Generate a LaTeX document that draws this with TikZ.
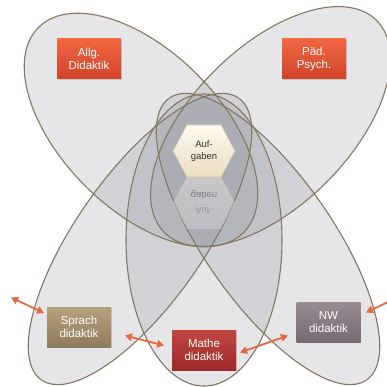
\documentclass[tikz,border=0pt]{standalone}
\usepackage{fontspec}
\setmainfont{Liberation Sans}
\usetikzlibrary{arrows.meta,shadows}
\definecolor{edgec}{RGB}{132,119,98}
\definecolor{petalc}{RGB}{138,140,150}
\definecolor{orangeT}{RGB}{241,104,66}
\definecolor{orangeB}{RGB}{208,66,42}
\definecolor{tanT}{RGB}{182,162,126}
\definecolor{tanB}{RGB}{143,123,93}
\definecolor{redT}{RGB}{194,70,64}
\definecolor{redB}{RGB}{156,42,40}
\definecolor{mauveT}{RGB}{154,139,147}
\definecolor{mauveB}{RGB}{118,105,113}
\definecolor{creamT}{RGB}{253,250,240}
\definecolor{creamB}{RGB}{233,220,193}
\definecolor{hexedge}{RGB}{214,198,166}
\definecolor{arrowc}{RGB}{232,104,62}
\begin{document}
\begin{tikzpicture}[x=1pt,y=-1pt,
  petalfill/.style={fill=petalc, fill opacity=0.21},
  petaledge/.style={draw=edgec, line width=1.1pt},
  box/.style={minimum width=64pt, minimum height=40pt, inner sep=0pt, align=center,
    text=white, font=\fontsize{11.5}{13.5}\selectfont,
    drop shadow={opacity=0.3, shadow xshift=0.6pt, shadow yshift=-1pt}},
  tip/.tip={Triangle[length=7pt,width=7.5pt]},
  link/.style={draw=arrowc, line width=1.8pt, tip-tip},
  hexfont/.style={font=\fontsize{9.5}{11.5}\selectfont, text=black!80}
]
\useasboundingbox (0,0) rectangle (386,387);
\fill[white] (0,0) rectangle (386,387);
% petals: centre x / centre y / rotation / semi-axes
\foreach \cx/\cy/\rot/\ra/\rb in {141/130/-45/145/79, 270.5/126.5/45/150/79, 140/239/55/172/64, 268/239/-55/172/64, 204/240/0/78/146}
  \path[petalfill, rotate around={\rot:(\cx,\cy)}] (\cx,\cy) ellipse [x radius=\ra, y radius=\rb];
\foreach \cx/\cy/\rot/\ra/\rb in {141/130/-45/145/79, 270.5/126.5/45/150/79, 140/239/55/172/64, 268/239/-55/172/64, 204/240/0/78/146}
  \path[petaledge, rotate around={\rot:(\cx,\cy)}] (\cx,\cy) ellipse [x radius=\ra, y radius=\rb];

% reflection of the hexagon
\path[top color=creamT, bottom color=petalc!30, fill opacity=0.35, draw=hexedge, draw opacity=0.3]
  (187,177) -- (221,177) -- (235,203) -- (221,229) -- (187,229) -- (173,203) -- cycle;
\node[hexfont, transform shape, yscale=-1, opacity=0.45] (gref) at (204,195) {gaben};
\node[hexfont, transform shape, yscale=-1, opacity=0.28] (aref) at (204,211) {Auf-};

% hexagon
\path[draw=hexedge, line width=0.6pt, top color=creamT, bottom color=creamB]
  (173,151) -- (187,125) -- (221,125) -- (235,151) -- (221,177) -- (187,177) -- cycle;
\node[hexfont, align=center] (auf) at (204,151) {Auf-\\gaben};

% boxes
\node[box, top color=orangeT, bottom color=orangeB] (allg) at (89,59) {Allg.\\Didaktik};
\node[box, top color=orangeT, bottom color=orangeB] (paed) at (314,59) {Päd.\\Psych.};
\node[box, top color=tanT, bottom color=tanB] (sprach) at (79,327) {Sprach\\didaktik};
\node[box, top color=redT, bottom color=redB] (mathe) at (204,350) {Mathe\\didaktik};
\node[box, top color=mauveT, bottom color=mauveB] (nw) at (328.5,322) {NW\\didaktik};

% arrows
\coordinate (l1) at (11,297.5);
\coordinate (l2) at (44,313);
\coordinate (sm1) at (125,335.5);
\coordinate (sm2) at (164,345.5);
\coordinate (mn1) at (240,352.5);
\coordinate (mn2) at (288,335.5);
\coordinate (r1) at (366,312.5);
\coordinate (r2) at (388,302);
\draw[link] (l1) -- (l2);
\draw[link] (sm1) -- (sm2);
\draw[link] (mn1) -- (mn2);
\draw[draw=arrowc, line width=1.8pt, tip-] (r1) -- (r2);
\end{tikzpicture}
\end{document}
